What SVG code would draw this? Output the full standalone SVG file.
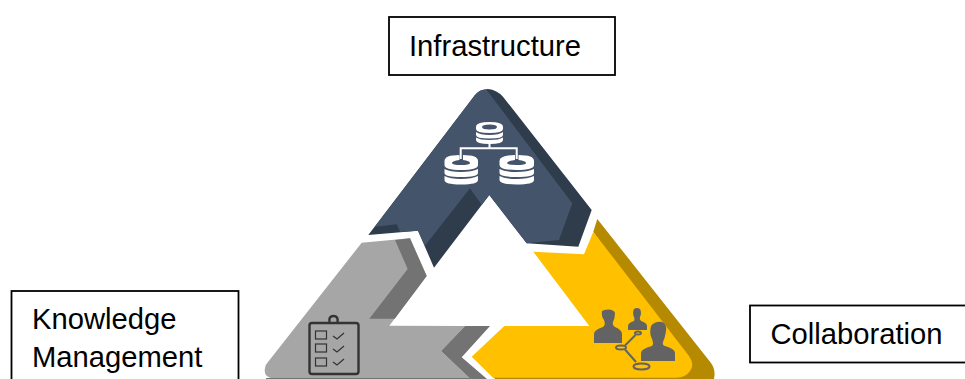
<svg xmlns="http://www.w3.org/2000/svg" width="965" height="379" viewBox="0 0 965 379">
<style>
.box{fill:#fff;stroke:#000;stroke-width:1.8}
.lbl{font-family:"Liberation Sans",Arial,sans-serif;font-size:29.2px;fill:#000}
.w{fill:#fff}.ws{fill:none;stroke:#fff;stroke-width:2}
.u{fill:#636363}.ul{fill:none;stroke:#636363;stroke-width:2}
.k{fill:none;stroke:#333;stroke-width:2.4}
.c{fill:none;stroke:#333;stroke-width:1.2}
</style>
<rect width="965" height="379" fill="#fff"/>
<g id="segment-collaboration">
<path fill="#b58900" d="M597.300 219L711 363Q716 370 714 379L495 379L493 376L680 370L593.300 231.700Z"/>
<path fill="#ffc000" d="M533.300 251.700L584 254.300L593.300 231.700L689 356Q695 365 690 371Q686 377.500 676 377.700L493 377.700L471.700 356.700L504.300 326L589.300 326Z"/>
<g class="u">
<path d="M594 343V334Q594 330 603 327Q606 325 604 320Q601 316 602 311Q604 309.500 608 309.500Q614 309.500 615 313Q615 318 613 322Q612 325 615 327Q622 330 622 334V343Z"/>
<path d="M628 330V326Q628 323 634 321Q635 319 634 317Q632 313 634 309Q637 307 640 309Q642 313 640 317Q639 319 641 321Q647 323 647 326V330Z"/>
<path d="M641 361V353Q641 349 652 346Q654 344 652 339Q649 333 651 326Q655 321 662 322Q667 324 666 331Q665 338 663 342Q662 345 665 346Q675 349 675 353V361Z"/>
</g>
<g class="ul"><ellipse cx="638" cy="333" rx="3" ry="1.500"/><ellipse cx="621" cy="347.500" rx="5" ry="2"/><ellipse cx="641.500" cy="366.500" rx="8" ry="3"/><path d="M635.500 335L625 345.500M625 349.500L636 362"/></g>
</g>
<g id="segment-knowledge">
<path fill="#a6a6a6" d="M361.700 242.700L410 238.300L426.700 276L389.300 325.700L465 326L441 351L470 378.500L274 378.500Q263 378 265 368Q265 365 268 362Z"/>
<path fill="#737373" d="M395 240L410 238.300L426.700 276L394.700 318.700L369.300 318.700L407.700 269Z"/>
<path fill="#737373" d="M465 326H490L461.700 357.300L487 379H470.500L441 351Z"/>
<path fill="#737373" d="M266 378H470V379H266Z"/>
<g>
<rect class="k" x="309.500" y="323" width="49" height="51" rx="2.500"/>
<path class="k" d="M329.500 322Q328.500 316 333.500 316Q338.500 316 337.500 322"/>
<rect class="c" x="315.500" y="331" width="11" height="8"/><rect class="c" x="315.500" y="344" width="11" height="8"/><rect class="c" x="315.500" y="358" width="11" height="8"/>
<path class="c" d="M333 336L337 339L344 333M333 349L337 352L344 346M333 362L337 365L344 359"/>
</g>
</g>
<g id="segment-infrastructure">
<path fill="#2f3c4c" d="M368.300 235L418 230.700L434 267.700L489.300 195L526.700 243.300L578.300 246.700L591.700 210L503 96.700Q497 90 488 89Q480 89 475 95Z"/>
<path fill="#44546a" d="M475 95Q480 89 486.700 90L572.300 203.300L559 240L526.700 243.300L489.300 195L481.700 205L470 188.300L425 245.700L418 230.700L400 232L396.700 224.300L375 226.700Z"/>
<g>
<path class="ws" d="M489.500 143V148.300M460.700 159V148.300H516.700V159"/>
<g class="w">
<path fill-rule="evenodd" d="M476 127Q476 122 489.500 122Q503 122 503 127V129Q503 133 489.500 133Q476 133 476 129ZM482 127Q482 129.500 489.500 129.500Q497 129.500 497 127Q497 124.500 489.500 124.500Q482 124.500 482 127Z"/>
<path d="M476 132Q480 135 489.500 135Q499 135 503 132V135Q503 138.500 489.500 138.500Q476 138.500 476 135Z"/>
<path d="M476 137.500Q480 140 489.500 140Q499 140 503 137.500V140Q503 144 489.500 144Q476 144 476 140Z"/>
<path fill-rule="evenodd" d="M444.500 161Q444.500 155 459.500 155V160Q452 161 452 163Q452 165 461 165Q470 165 470 163Q470 161 463 160V155Q478 155 478 161V165Q478 170 461 170Q444.500 170 444.500 165Z"/>
<path d="M444.500 169Q450 172 461 172Q472 172 478 169V173Q478 177 461 177Q444.500 177 444.500 173Z"/>
<path d="M444.500 176Q450 179 461 179Q472 179 478 176V180Q478 184.500 461 184.500Q444.500 184.500 444.500 180Z"/>
<path fill-rule="evenodd" d="M499.500 161Q499.500 155 515 155V160Q507 161 507 163Q507 165 516.500 165Q526 165 526 163Q526 161 518.500 160V155Q534 155 534 161V165Q534 170 516.500 170Q499.500 170 499.500 165Z"/>
<path d="M499.500 169Q505 172 516.500 172Q528 172 534 169V173Q534 177 516.500 177Q499.500 177 499.500 173Z"/>
<path d="M499.500 176Q505 179 516.500 179Q528 179 534 176V180Q534 184.500 516.500 184.500Q499.500 184.500 499.500 180Z"/>
</g>
</g>
</g>
<g id="node-infrastructure"><rect class="box" x="389" y="17" width="226" height="58"/><text class="lbl" x="409" y="56">Infrastructure</text></g>
<g id="node-knowledge"><rect class="box" x="11.500" y="291" width="227" height="100"/><text class="lbl" x="32" y="329">Knowledge</text><text class="lbl" x="32" y="367">Management</text></g>
<g id="node-collaboration"><rect class="box" x="750" y="305.500" width="230" height="57"/><text class="lbl" x="770.500" y="344">Collaboration</text></g>
</svg>
